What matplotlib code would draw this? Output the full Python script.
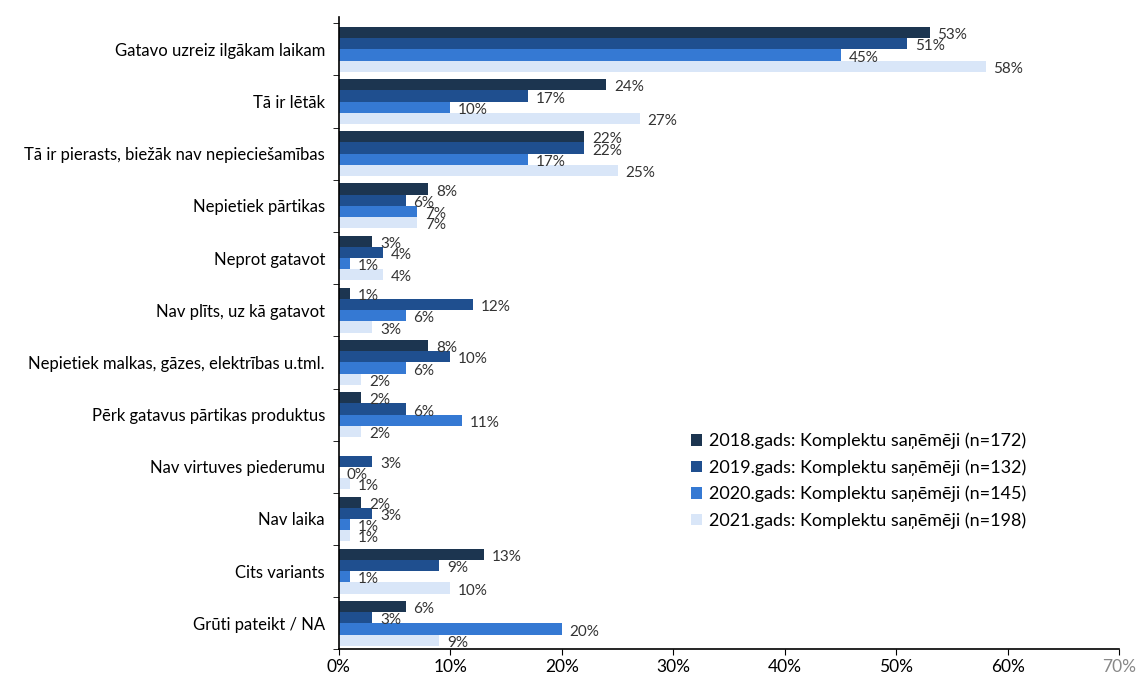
import matplotlib
matplotlib.use("Agg")
import matplotlib.pyplot as plt
import numpy as np

categories = [
    "Gatavo uzreiz ilgākam laikam",
    "Tā ir lētāk",
    "Tā ir pierasts, biežāk nav nepieciešamības",
    "Nepietiek pārtikas",
    "Neprot gatavot",
    "Nav plīts, uz kā gatavot",
    "Nepietiek malkas, gāzes, elektrības u.tml.",
    "Pērk gatavus pārtikas produktus",
    "Nav virtuves piederumu",
    "Nav laika",
    "Cits variants",
    "Grūti pateikt / NA",
]
series_names = [
    "2018.gads: Komplektu saņēmēji (n=172)",
    "2019.gads: Komplektu saņēmēji (n=132)",
    "2020.gads: Komplektu saņēmēji (n=145)",
    "2021.gads: Komplektu saņēmēji (n=198)",
]
# None = no answer option / no data that year
v2018 = [53, 24, 22, 8, 3, 1, 8, 2, None, 2, 13, 6]
v2019 = [51, 17, 22, 6, 4, 12, 10, 6, 3, 3, 9, 3]
v2020 = [45, 10, 17, 7, 1, 6, 6, 11, 0, 1, 1, 20]
v2021 = [58, 27, 25, 7, 4, 3, 2, 2, 1, 1, 10, 9]
xticks = [0, 10, 20, 30, 40, 50, 60, 70]

plt.rcParams['font.family'] = ['Lato', 'DejaVu Sans']

fig = plt.figure(figsize=(11.41, 6.8), dpi=100)
ax = fig.add_axes([0.297, 0.045, 0.684, 0.93])

colors = ["#1c3550", "#1f4f8f", "#3579d3", "#d9e6f8"]
series = [v2018, v2019, v2020, v2021]
h = 0.215
offsets = [-1.5 * h, -0.5 * h, 0.5 * h, 1.5 * h]
y = np.arange(len(categories))

for s, vals in enumerate(series):
    arr = np.array([np.nan if v is None else v for v in vals], dtype=float)
    ax.barh(y + offsets[s], arr, height=h, color=colors[s], label=series_names[s])
    for i, v in enumerate(vals):
        if v is None:
            continue
        ax.text(v + 0.7, y[i] + offsets[s] + 0.05, f"{v}%", va="center", ha="left",
                fontsize=11, color="#333333")

ax.set_ylim(len(categories) - 0.5, -0.62)
ax.set_xlim(0, 70)
ax.set_yticks(y)
ax.set_yticklabels(categories, fontsize=12)
ax.tick_params(axis='y', which='major', length=0, pad=10)
ax.set_yticks(np.arange(len(categories) + 1) - 0.5, minor=True)
ax.tick_params(axis='y', which='minor', length=4, direction='out')
ax.set_xticks(xticks)
ax.set_xticklabels([f"{t}%" for t in xticks], fontsize=12.5)
ax.get_xticklabels()[-1].set_color("#888888")
ax.tick_params(axis='x', length=4, direction='out', pad=3)
for sp in ['top', 'right']:
    ax.spines[sp].set_visible(False)
ax.spines['left'].set_linewidth(1.2)
ax.spines['bottom'].set_linewidth(1.2)

ax.legend(loc='lower left', bbox_to_anchor=(0.43, 0.165), frameon=False, fontsize=13,
          handlelength=0.6, handleheight=0.6, handletextpad=0.4, labelspacing=0.55)

fig.savefig("out.png", dpi=100)
